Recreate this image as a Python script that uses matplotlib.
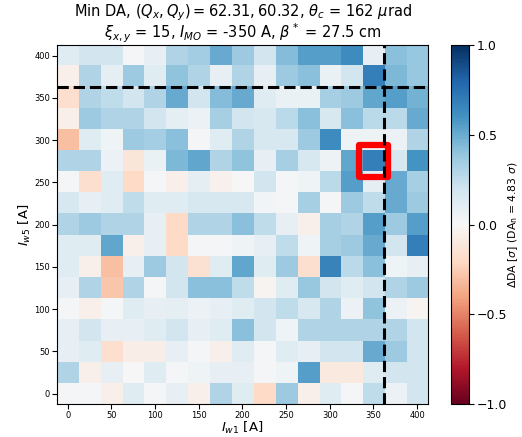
import numpy as np
import matplotlib
matplotlib.use("Agg")
import matplotlib.pyplot as plt
from matplotlib.patches import Rectangle

# Scan currents (A)
i_w1 = np.arange(0, 401, 25)
i_w5 = np.arange(0, 401, 25)

# Delta DA grid, rows from I_w5 = 400 (top) down to I_w5 = 0 (bottom)
rows_top_down = [
    [0.12, 0.18, 0.18, 0.02, 0.08, 0.30, 0.35, 0.50, 0.36, 0.18, 0.43, 0.55, 0.55, 0.63, 0.08, 0.42, 0.38],  # 400
    [-0.05, 0.30, 0.10, 0.36, 0.12, 0.40, 0.30, 0.08, 0.30, 0.08, 0.36, 0.42, 0.07, 0.18, 0.68, 0.45, 0.38],  # 375
    [-0.17, 0.30, 0.25, 0.18, 0.30, 0.50, 0.18, 0.43, 0.50, 0.12, 0.07, 0.07, 0.33, 0.36, 0.52, 0.55, 0.47],  # 350
    [-0.05, 0.36, 0.30, 0.30, 0.18, 0.10, 0.06, 0.33, 0.18, 0.16, 0.27, 0.42, 0.16, 0.42, 0.27, 0.27, 0.50],  # 325
    [-0.30, 0.12, 0.04, 0.36, 0.34, 0.42, 0.02, 0.12, 0.30, 0.16, 0.16, 0.36, 0.63, 0.05, 0.05, 0.06, 0.30],  # 300
    [0.30, 0.30, 0.06, -0.12, 0.07, 0.45, 0.52, 0.30, 0.40, 0.08, 0.33, 0.16, 0.05, 0.52, 0.68, 0.16, 0.60],  # 275
    [0.02, -0.17, 0.12, -0.20, 0.01, -0.05, 0.10, -0.04, 0.00, 0.18, 0.02, 0.04, 0.27, 0.55, 0.10, 0.50, 0.33],  # 250
    [0.16, 0.08, 0.12, 0.25, 0.12, 0.12, 0.16, 0.16, 0.16, 0.03, 0.01, 0.33, 0.02, 0.36, 0.25, 0.50, 0.36],  # 225
    [0.30, 0.36, 0.30, 0.30, 0.08, -0.20, 0.30, 0.30, 0.42, 0.25, 0.08, -0.05, 0.33, 0.30, 0.55, 0.36, 0.55],  # 200
    [0.12, 0.12, 0.52, -0.05, 0.08, -0.20, 0.02, 0.02, 0.04, 0.08, 0.25, 0.04, 0.33, 0.36, 0.50, 0.18, 0.68],  # 175
    [0.12, -0.05, -0.30, 0.08, 0.36, 0.18, -0.15, 0.12, 0.52, 0.12, 0.36, -0.17, 0.67, 0.27, 0.42, 0.04, 0.08],  # 150
    [0.08, 0.30, -0.28, 0.30, 0.02, 0.18, 0.42, 0.42, 0.25, -0.03, 0.12, 0.38, 0.18, 0.12, 0.18, 0.30, 0.36],  # 125
    [0.02, -0.05, 0.02, 0.12, 0.08, 0.10, 0.06, 0.08, 0.12, 0.18, 0.25, 0.16, 0.30, 0.06, 0.40, 0.06, -0.03],  # 100
    [0.08, 0.18, 0.08, 0.08, 0.12, 0.18, 0.08, 0.12, 0.42, 0.18, 0.04, 0.30, 0.30, 0.30, 0.30, 0.30, 0.18],  # 75
    [0.08, 0.12, -0.17, -0.07, -0.07, 0.08, 0.02, -0.05, 0.12, 0.02, 0.12, 0.08, 0.18, 0.18, 0.50, 0.36, 0.18],  # 50
    [0.30, -0.05, 0.08, 0.00, 0.12, 0.02, 0.04, 0.08, 0.08, 0.02, 0.04, 0.55, -0.10, -0.10, 0.12, 0.18, 0.18],  # 25
    [0.02, 0.02, -0.05, 0.12, 0.02, 0.08, -0.05, 0.30, 0.12, -0.20, 0.36, -0.05, 0.12, 0.02, 0.25, 0.06, 0.18],  # 0
]
dda = np.array(rows_top_down[::-1])

# nominal working point and the minimum cell
nominal_w1 = 362.5
nominal_w5 = 362.5
min_w1, min_w5 = 350, 275

fig, ax = plt.subplots(figsize=(5.22, 4.37), dpi=100)
fig.subplots_adjust(left=0.109, right=0.82, top=0.897, bottom=0.075)

step = i_w1[1] - i_w1[0]
extent = [i_w1[0] - step / 2, i_w1[-1] + step / 2, i_w5[0] - step / 2, i_w5[-1] + step / 2]
im = ax.imshow(dda, origin="lower", cmap="RdBu", vmin=-1, vmax=1,
               extent=extent, aspect="auto", interpolation="nearest")

ax.axvline(nominal_w1, color="black", ls="--", lw=2.2)
ax.axhline(nominal_w5, color="black", ls="--", lw=2.2)

ax.add_patch(Rectangle((min_w1 - 17, min_w5 - 19), 34, 38, fill=False,
                       edgecolor="red", lw=4.5, joinstyle="round"))

ax.set_xticks(np.arange(0, 401, 50))
ax.set_yticks(np.arange(0, 401, 50))
ax.tick_params(labelsize=6, pad=1.5)
ax.set_xlabel(r"$I_{w1}$ [A]", fontsize=9.5, labelpad=0)
ax.set_ylabel(r"$I_{w5}$ [A]", fontsize=9.5, labelpad=1)
ax.set_title("Min DA, $(Q_x, Q_y) = 62.31, 60.32$, $\\theta_c$ = 162 $\\mu$rad\n"
             "$\\xi_{x,y}$ = 15, $I_{MO}$ = -350 A, $\\beta^*$ = 27.5 cm",
             fontsize=10.5, linespacing=0.95, pad=2)

cax = fig.add_axes([0.864, 0.075, 0.035, 0.822])
cb = fig.colorbar(im, cax=cax, ticks=[-1, -0.5, 0, 0.5, 1])
cb.ax.tick_params(labelsize=9, pad=2)
cb.set_label(r"$\Delta$DA [$\sigma$] (DA$_{\rm n}$ = 4.83 $\sigma$)", fontsize=7.8, labelpad=-1)

fig.savefig("out.png", dpi=100)
